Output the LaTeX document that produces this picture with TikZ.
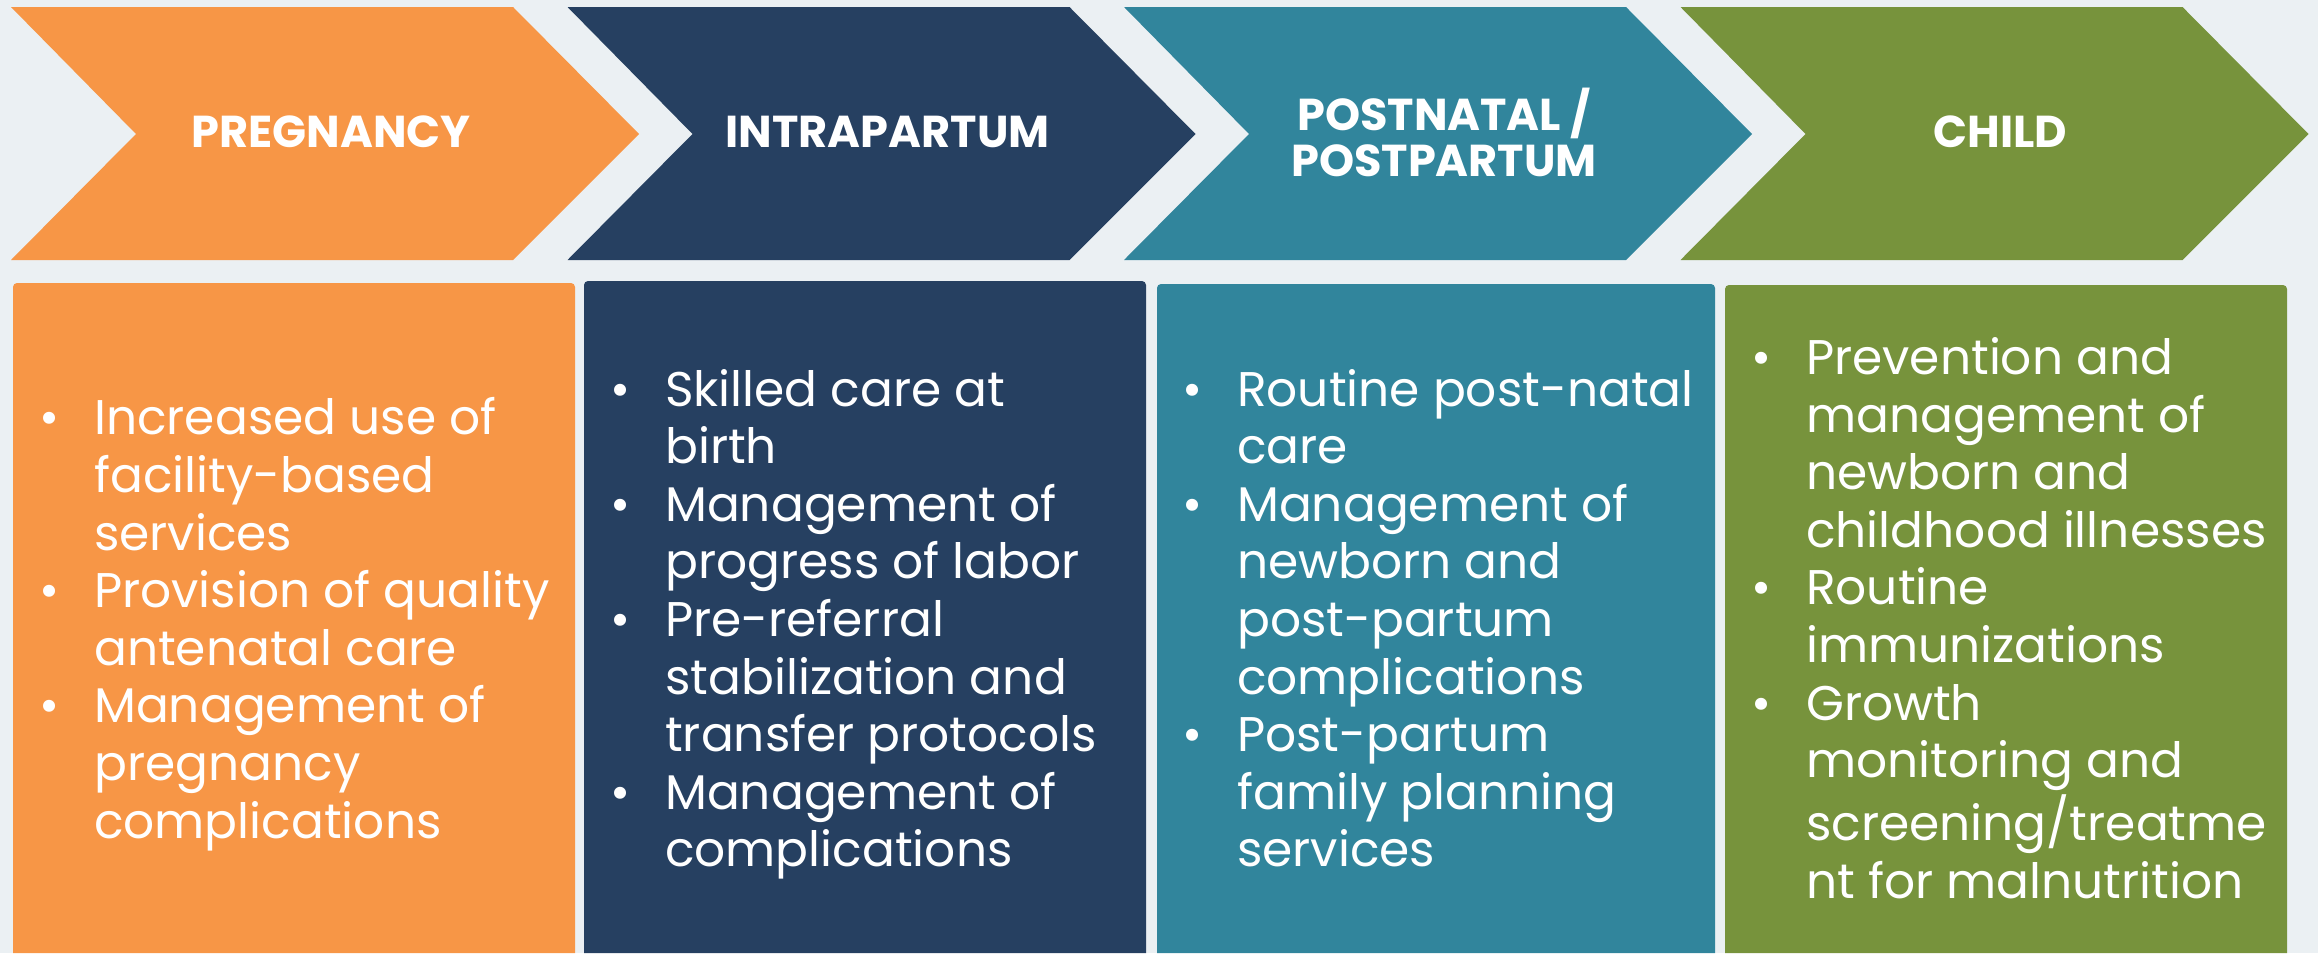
\documentclass[tikz,border=0pt]{standalone}
\usepackage{fontspec}
\setmainfont{Poppins}
\definecolor{pregcol}{RGB}{247,150,70}
\definecolor{intracol}{RGB}{38,64,97}
\definecolor{postcol}{RGB}{49,133,156}
\definecolor{childcol}{RGB}{119,147,60}
\definecolor{bgcol}{RGB}{235,240,243}

\tikzset{every picture/.style={line width=0.75pt}}
\tikzset{
  headtext/.style={anchor=center,inner sep=0pt,text=white,align=center,font=\fontsize{33.5}{34.5}\selectfont\bfseries},
  itemtext/.style={anchor=west,inner sep=0pt,text=white,font=\fontsize{36.5}{43.2}\selectfont}
}

\begin{document}
\begin{tikzpicture}[x=0.75pt,y=0.75pt,yscale=-1,xscale=1]
%Background
\fill [bgcol] (0,0) rectangle (2318,953);
\useasboundingbox (0,0) rectangle (2318,953);

%Shape: Chevron (pregnancy)
\draw  [draw opacity=0][fill=pregcol ,fill opacity=1 ]  (11,7) -- (513,7) -- (639,134) -- (513,260) -- (11,260) -- (136,134) -- cycle ;
%Shape: Chevron (intrapartum)
\draw  [draw opacity=0][fill=intracol ,fill opacity=1 ]  (567.5,7) -- (1069.5,7) -- (1195.5,134) -- (1069.5,260) -- (567.5,260) -- (692.5,134) -- cycle ;
%Shape: Chevron (postnatal)
\draw  [draw opacity=0][fill=postcol ,fill opacity=1 ]  (1124,7) -- (1626,7) -- (1752,134) -- (1626,260) -- (1124,260) -- (1249,134) -- cycle ;
%Shape: Chevron (child)
\draw  [draw opacity=0][fill=childcol ,fill opacity=1 ]  (1680.5,7) -- (2182.5,7) -- (2308.5,134) -- (2182.5,260) -- (1680.5,260) -- (1805.5,134) -- cycle ;

%Rounded Rect (pregnancy)
\draw  [draw opacity=0][fill=pregcol ,fill opacity=1 ]  (13,287) .. controls (13,284.79) and (14.79,283) .. (17,283) -- (571,283) .. controls (573.21,283) and (575,284.79) .. (575,287) -- (575,953) -- (13,953) -- cycle ;
%Rounded Rect (intrapartum)
\draw  [draw opacity=0][fill=intracol ,fill opacity=1 ]  (584,285) .. controls (584,282.79) and (585.79,281) .. (588,281) -- (1142,281) .. controls (1144.21,281) and (1146,282.79) .. (1146,285) -- (1146,953) -- (584,953) -- cycle ;
%Rounded Rect (postnatal)
\draw  [draw opacity=0][fill=postcol ,fill opacity=1 ]  (1157,288) .. controls (1157,285.79) and (1158.79,284) .. (1161,284) -- (1711,284) .. controls (1713.21,284) and (1715,285.79) .. (1715,288) -- (1715,953) -- (1157,953) -- cycle ;
%Rounded Rect (child)
\draw  [draw opacity=0][fill=childcol ,fill opacity=1 ]  (1725,289) .. controls (1725,286.79) and (1726.79,285) .. (1729,285) -- (2283,285) .. controls (2285.21,285) and (2287,286.79) .. (2287,289) -- (2287,953) -- (1725,953) -- cycle ;

% Text Node
\node [headtext] (preg) at (331,132) {PREGNANCY};
% Text Node
\node [headtext] (intra) at (887.5,132) {INTRAPARTUM};
% Text Node
\node [headtext] (postn) at (1444,132) {POSTNATAL /\\POSTPARTUM};
% Text Node
\node [headtext] (child) at (2000.5,132) {CHILD};

% Text Node
\node [itemtext] (pregtxt) at (39,625) {\begin{tabular}{@{}p{41pt}@{}l@{}}
\textbullet & Increased use of\\
 & facility-based\\
 & services\\
\textbullet & Provision of quality\\
 & antenatal care\\
\textbullet & Management of\\
 & pregnancy\\
 & complications
\end{tabular}};
% Text Node
\node [itemtext] (intratxt) at (610,625) {\begin{tabular}{@{}p{41pt}@{}l@{}}
\textbullet & Skilled care at\\
 & birth\\
\textbullet & Management of\\
 & progress of labor\\
\textbullet & Pre-referral\\
 & stabilization and\\
 & transfer protocols\\
\textbullet & Management of\\
 & complications
\end{tabular}};
% Text Node
\node [itemtext] (posttxt) at (1182,625) {\begin{tabular}{@{}p{41pt}@{}l@{}}
\textbullet & Routine post-natal\\
 & care\\
\textbullet & Management of\\
 & newborn and\\
 & post-partum\\
 & complications\\
\textbullet & Post-partum\\
 & family planning\\
 & services
\end{tabular}};
% Text Node
\node [itemtext] (childtxt) at (1751,625) {\begin{tabular}{@{}p{41pt}@{}l@{}}
\textbullet & Prevention and\\
 & management of\\
 & newborn and\\
 & childhood illnesses\\
\textbullet & Routine\\
 & immunizations\\
\textbullet & Growth\\
 & monitoring and\\
 & screening/treatme\\
 & nt for malnutrition
\end{tabular}};

\end{tikzpicture}
\end{document}
